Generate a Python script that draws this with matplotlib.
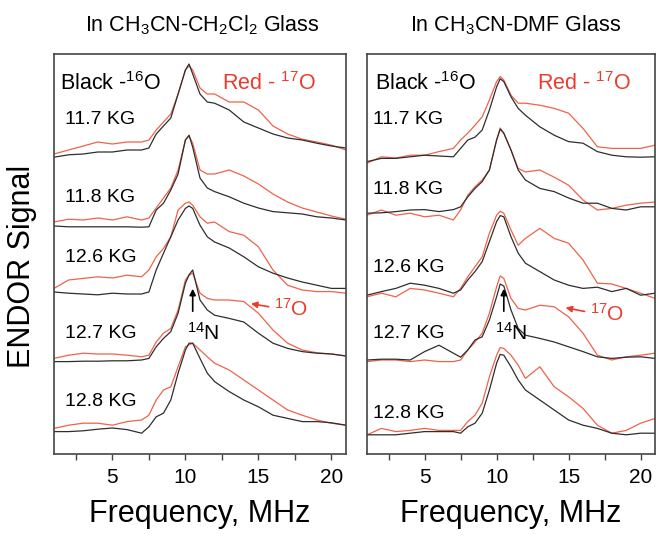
import matplotlib
matplotlib.use("Agg")
import matplotlib.pyplot as plt
from matplotlib.ticker import MultipleLocator

plt.rcParams['font.family'] = ['Liberation Sans', 'DejaVu Sans']
plt.rcParams['mathtext.fontset'] = 'custom'
plt.rcParams['mathtext.rm'] = 'Liberation Sans'
plt.rcParams['mathtext.it'] = 'Liberation Sans:italic'

# frequency grid (MHz)
freq = [1, 2, 3, 4, 5, 6, 7, 7.5, 8, 8.5, 9, 9.5, 10, 10.25, 10.5, 11, 11.5, 12,
        13, 14, 15, 16, 17, 18, 19, 20, 21]

fields = ["11.7 KG", "11.8 KG", "12.6 KG", "12.7 KG", "12.8 KG"]

# CH3CN-CH2Cl2 glass (stacked, arbitrary units)
dcm_117_k = [74.2, 74.8, 75, 75.5, 75.5, 76, 76, 76.5, 80, 82, 84, 90, 96, 97.5, 95, 90, 88, 87.7, 86, 83, 81.5, 80, 79, 78.5, 77.7, 77, 76.5]
dcm_117_r = [75, 76, 77, 78, 77.5, 78, 78, 78.5, 81, 83, 85, 90, 96, 97, 96, 91.5, 90, 90, 88, 88, 86, 82, 80, 78.7, 78, 77.2, 76]
dcm_118_k = [57, 56.8, 56.8, 56.8, 56.8, 56.8, 56.7, 56.8, 61, 62.7, 66, 70, 78.5, 79.7, 76.7, 69, 66.5, 65.6, 64.3, 62.7, 61.5, 60.6, 60.3, 60, 59.3, 59, 58.5]
dcm_118_r = [58, 58.7, 58.5, 59, 58.5, 59.3, 58.5, 59, 61.5, 64, 66.5, 71, 78.5, 79.5, 77.7, 71, 70, 70, 71, 69.5, 67.5, 65, 63, 61.5, 60.5, 59.5, 58.7]
dcm_126_k = [40.5, 40.2, 40, 39.8, 40.2, 40, 40, 40.5, 46, 50.2, 54.3, 58.5, 61.4, 62, 61.4, 57.2, 54.3, 53, 51.5, 49.3, 46.8, 45.2, 44, 43, 42.2, 41.4, 41.4]
dcm_126_r = [41.4, 43.5, 43.9, 44.3, 44, 44.7, 44.3, 46, 49.3, 51.4, 54.3, 61, 62.7, 63, 62.2, 59.3, 57.7, 58, 55.6, 54.7, 51.8, 46, 42.2, 41, 40.6, 40.6, 40.2]
dcm_127_k = [23.1, 23.1, 23.2, 23.2, 23.3, 23.3, 23.5, 23.9, 26.8, 28.9, 30.6, 35.2, 42.7, 44.8, 46, 38.5, 36, 34.7, 33.9, 33, 30.2, 27.7, 26.4, 25.6, 25.2, 25, 24.5]
dcm_127_r = [23.9, 24.7, 25.2, 25, 25, 24.7, 24.3, 24.7, 28, 30.2, 31.4, 36, 43.5, 44.7, 45.2, 40.2, 38.9, 38.5, 38.5, 38.1, 35.2, 31, 27.7, 26, 25.3, 25, 24.5]
dcm_128_k = [5.6, 5.6, 5.8, 6.2, 6.5, 6.1, 5.2, 6.8, 9.3, 10.2, 13.5, 20.2, 26, 27.7, 27.7, 23.9, 20.2, 18.1, 15.6, 13.5, 11.8, 9.7, 8.9, 8.1, 8.1, 7.8, 7.2]
dcm_128_r = [6.4, 7.2, 7.7, 7.7, 7.2, 8.1, 8.5, 9.7, 13.5, 16, 16.8, 21.8, 26.8, 27.3, 27.7, 26, 24.3, 22.7, 21, 18.5, 16, 13.5, 11, 9.7, 8.5, 7.7, 7.2]

# CH3CN-DMF glass
dmf_117_k = [73.1, 73.9, 73.9, 74.3, 74.7, 74.5, 74.3, 76.4, 78.5, 79.2, 81, 86, 91.8, 93.8, 93.1, 89.3, 86.4, 84.7, 81.8, 79.7, 78.1, 77.7, 75.6, 74.7, 74.3, 74.2, 74.3]
dmf_117_r = [72.7, 74.3, 74, 74.7, 74.7, 75.6, 76.4, 78.5, 80.2, 82.2, 84.3, 88.5, 93.1, 94.4, 93.5, 89.7, 87.7, 87.7, 87.2, 86.4, 85.2, 81.4, 76.8, 76.4, 76.4, 76.4, 77.2]
dmf_118_k = [60.2, 60.3, 60.6, 61, 61.1, 60.6, 61.1, 61.8, 64.3, 66.4, 68.1, 71, 78.5, 81.2, 80.2, 76, 71, 68.5, 66.4, 65.6, 64, 62.7, 62.7, 61.4, 61, 61.8, 61.8]
dmf_118_r = [59.7, 61, 59.7, 60.2, 59.3, 59.7, 58.5, 61, 64.7, 66.8, 68.5, 71, 78.5, 81.5, 80.2, 76, 71.4, 70.5, 71, 69.2, 67.2, 63.5, 61, 61.4, 62.2, 62.7, 63]
dmf_126_k = [39.7, 40.6, 41.4, 42.7, 42.2, 41.4, 40.2, 41, 43.5, 45.6, 48.1, 53.1, 58.1, 59.6, 59.3, 54.3, 50.2, 47.7, 45.6, 43.5, 42.2, 41.4, 41.7, 40.6, 41.4, 39.7, 40.2]
dmf_126_r = [39.3, 40.2, 39.3, 41.4, 41, 40.2, 39.3, 41.4, 44.3, 46.8, 49.3, 55.2, 59.7, 60.7, 60.2, 56, 52.2, 53.9, 56.4, 53.9, 52.7, 48.5, 42.7, 42.5, 41.4, 40.2, 38.9]
dmf_127_k = [23.5, 23.7, 23.7, 23.5, 25.6, 27.2, 25.2, 24.2, 26, 28.5, 29.3, 33.5, 39.3, 42.5, 42, 36, 31.4, 29.7, 28.9, 28, 26.8, 25.6, 24.3, 23.9, 24.2, 24.3, 23.9]
dmf_127_r = [23.1, 23.5, 23.5, 23.1, 23.5, 23.1, 23.1, 23.5, 26, 28, 30.2, 35.2, 41.8, 44.5, 43.9, 38.9, 36.4, 36, 37.2, 36.8, 34.3, 30.2, 24.7, 23.5, 24.3, 24.7, 25.2]
dmf_128_k = [4.8, 4.8, 4.8, 5.2, 5.6, 5.6, 5.6, 5.2, 6.8, 7.7, 10.2, 16, 22.7, 24.9, 24.7, 21.8, 18.5, 16, 13.5, 11, 8.5, 7.2, 6.4, 5.2, 4.8, 5.2, 5.2]
dmf_128_r = [4.8, 6.4, 5.6, 5.9, 6.4, 5.9, 5.9, 5.9, 8.1, 9.7, 12.7, 19.3, 24.7, 26.6, 26.4, 24.7, 22.2, 18.9, 21.8, 16.8, 14.3, 11.4, 7.2, 5.2, 5.9, 7.7, 8.9]

BLACK = '#2e2e2e'
RED = '#f0624a'
RED_TXT = '#ec3b2c'

fig = plt.figure(figsize=(6.56, 5.36), dpi=100)
ax1 = fig.add_axes([54 / 656, 82 / 536, 292 / 656, 400 / 536])
ax2 = fig.add_axes([367 / 656, 82 / 536, 288 / 656, 400 / 536])

panels = [
    (ax1, [dcm_117_k, dcm_118_k, dcm_126_k, dcm_127_k, dcm_128_k],
     [dcm_117_r, dcm_118_r, dcm_126_r, dcm_127_r, dcm_128_r],
     [83.5, 64, 49, 30.2, 13], 1.75, 1.4, 12.5,
     (10.5, 11.2), (14.3, 37.7, 15.9, 36.7)),
    (ax2, [dmf_117_k, dmf_118_k, dmf_126_k, dmf_127_k, dmf_128_k],
     [dmf_117_r, dmf_118_r, dmf_126_r, dmf_127_r, dmf_128_r],
     [83.5, 66, 46.5, 30.2, 10.2], 1.4, 1.55, 12.8,
     (10.5, 11.0), (14.6, 36.7, 16.3, 35.5)),
]

for ax, blacks, reds, lab_y, lab_x, blk_x, red_x, n_arrow, o_arrow in panels:
    for yk, yr in zip(blacks, reds):
        ax.plot(freq, yr, color=RED, lw=0.9)
        ax.plot(freq, yk, color=BLACK, lw=0.9)
    for f, yy in zip(fields, lab_y):
        ax.text(lab_x, yy, f, fontsize=14, va='center', ha='left')
    ax.text(blk_x, 92.7, r'Black -$^{\mathregular{16}}$O', fontsize=15.5, va='center')
    ax.text(red_x, 92.7, r'Red - $^{\mathregular{17}}$O', fontsize=15.5, va='center', color=RED_TXT)
    # 14N arrow
    ax.annotate('', xy=(n_arrow[0], 42), xytext=(n_arrow[0], 35),
                arrowprops=dict(arrowstyle='-|>', color='black', lw=1.2, mutation_scale=9))
    ax.text(n_arrow[1], 30.2, r'$^{\mathregular{14}}$N', fontsize=15, ha='center', va='center')
    # 17O arrow
    ax.annotate('', xy=(o_arrow[0], o_arrow[1]), xytext=(o_arrow[2], o_arrow[3]),
                arrowprops=dict(arrowstyle='-|>', color=RED_TXT, lw=1.2, mutation_scale=9))
    ax.text(o_arrow[2] + 0.2, o_arrow[3] - 0.5, r'$^{\mathregular{17}}$O', fontsize=15,
            va='center', color=RED_TXT)

    ax.set_xlim(1, 21)
    ax.set_ylim(0, 100)
    ax.set_yticks([])
    ax.xaxis.set_major_locator(MultipleLocator(5))
    ax.xaxis.set_minor_locator(MultipleLocator(2.5))
    ax.tick_params(axis='x', which='both', direction='out', length=4, width=1,
                   labelsize=15, color='#444444', pad=6)
    for sp in ax.spines.values():
        sp.set_color('#444444')
        sp.set_linewidth(1.2)
    ax.set_xlabel('Frequency, MHz', fontsize=22, labelpad=9)

fig.text(202 / 656, 1 - 25 / 536, r'In CH$_\mathregular{3}$CN-CH$_\mathregular{2}$Cl$_\mathregular{2}$ Glass',
         fontsize=15.5, ha='center', va='center')
fig.text(516 / 656, 1 - 25 / 536, r'In CH$_\mathregular{3}$CN-DMF Glass',
         fontsize=15.5, ha='center', va='center')
fig.text(22 / 656, 1 - 266 / 536, 'ENDOR Signal', fontsize=22, rotation=90,
         ha='center', va='center')

fig.savefig('out.png', dpi=100)
